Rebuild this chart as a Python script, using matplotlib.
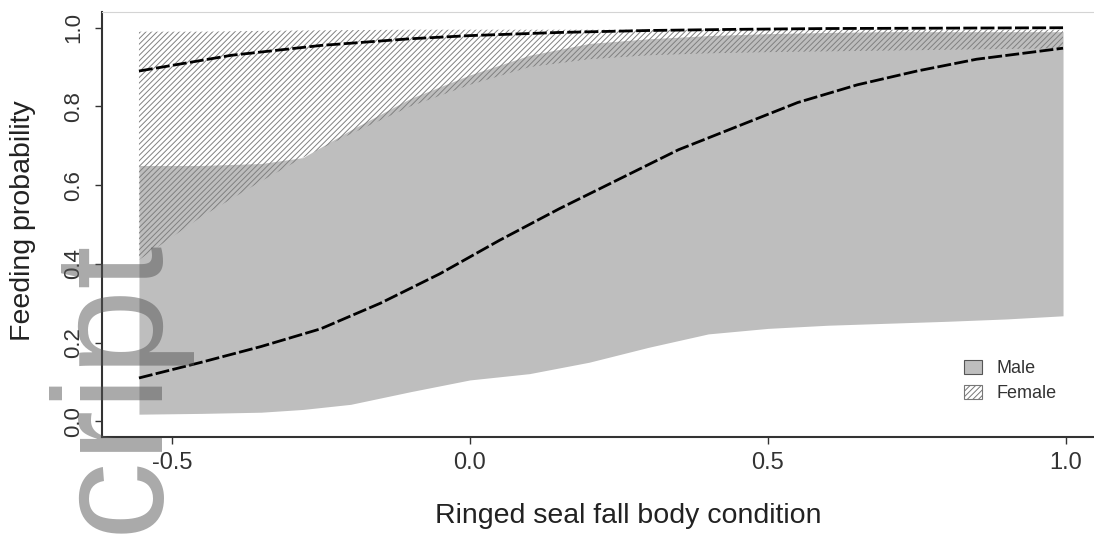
import matplotlib
matplotlib.use("Agg")
import matplotlib.pyplot as plt
from matplotlib.patches import Patch

plt.rcParams['font.family'] = ['Liberation Sans', 'DejaVu Sans']
plt.rcParams['hatch.linewidth'] = 0.7

# confidence band grid (body condition)
x_ci = [-0.555, -0.45, -0.35, -0.28, -0.2, -0.1, 0.0, 0.1, 0.2, 0.3,
        0.4, 0.5, 0.6, 0.7, 0.8, 0.9, 0.995]
male_lo = [0.018, 0.02, 0.023, 0.03, 0.043, 0.075, 0.105, 0.121, 0.15, 0.188,
           0.222, 0.236, 0.244, 0.249, 0.254, 0.26, 0.268]
male_hi = [0.65, 0.65, 0.655, 0.67, 0.74, 0.82, 0.88, 0.93, 0.96, 0.972,
           0.98, 0.985, 0.988, 0.99, 0.99, 0.99, 0.99]
fem_lo = [0.41, 0.52, 0.61, 0.67, 0.73, 0.80, 0.855, 0.90, 0.92, 0.93,
          0.935, 0.938, 0.94, 0.942, 0.944, 0.946, 0.948]
fem_hi = [0.99, 0.99, 0.992, 0.993, 0.994, 0.995, 0.995, 0.995, 0.995, 0.995,
          0.995, 0.995, 0.995, 0.995, 0.995, 0.995, 0.995]

# fitted curves
x_male = [-0.555, -0.45, -0.35, -0.25, -0.15, -0.05, 0.05, 0.15, 0.25, 0.35,
          0.45, 0.55, 0.65, 0.75, 0.85, 0.995]
y_male = [0.11, 0.15, 0.19, 0.235, 0.30, 0.375, 0.46, 0.54, 0.615, 0.69,
          0.75, 0.81, 0.855, 0.89, 0.92, 0.948]
x_fem = [-0.555, -0.4, -0.25, -0.1, 0.0, 0.15, 0.3, 0.45, 0.6, 0.8, 0.995]
y_fem = [0.89, 0.93, 0.955, 0.972, 0.98, 0.988, 0.993, 0.996, 0.998, 0.999, 1.0]

x_ticks = [-0.5, 0.0, 0.5, 1.0]
y_ticks = [0.0, 0.2, 0.4, 0.6, 0.8, 1.0]

W, H = 1094, 535
fig = plt.figure(figsize=(W / 100, H / 100), dpi=100)
ax = fig.add_axes([102 / W, 98 / H, 998 / W, 425 / H])

ax.fill_between(x_ci, male_lo, male_hi, color='#bebebe', lw=0, zorder=1)
ax.fill_between(x_ci, fem_lo, fem_hi, facecolor='none', edgecolor='#808080',
                hatch='//////', lw=0, zorder=2)

l1, = ax.plot(x_male, y_male, color='black', lw=2, zorder=3)
l1.set_dashes([5, 1.2])
l2, = ax.plot(x_fem, y_fem, color='black', lw=2, zorder=3)
l2.set_dashes([5, 1.2])

ax.set_xlim(-0.617, 1.057)
ax.set_ylim(-0.04, 1.04)

ax.spines['left'].set_linewidth(1.5)
ax.spines['bottom'].set_linewidth(1.5)
ax.spines['left'].set_color('#333333')
ax.spines['bottom'].set_color('#333333')
ax.spines['top'].set_color('#d4d4d4')
ax.spines['right'].set_visible(False)

ax.set_xticks(x_ticks)
ax.set_xticklabels(['-0.5', '0.0', '0.5', '1.0'])
ax.set_yticks(y_ticks)
ax.set_yticklabels(['0.0', '0.2', '0.4', '0.6', '0.8', '1.0'], rotation=90, va='center')
ax.tick_params(axis='both', direction='out', length=5, width=1, color='#333333',
               labelcolor='#333333')
ax.tick_params(axis='x', pad=6, labelsize=17)
ax.tick_params(axis='y', pad=8, labelsize=16)

ax.set_xlabel('Ringed seal fall body condition', fontsize=20.5, color='#222222')
ax.xaxis.set_label_coords(0.527, -0.155)
ax.set_ylabel('Feeding probability', fontsize=20.5, color='#222222')
ax.yaxis.set_label_coords(-0.066, 0.51)

handles = [Patch(facecolor='#bebebe', edgecolor='#555555', lw=0.8, label='Male'),
           Patch(facecolor='white', edgecolor='#777777', hatch='//////', lw=0.8, label='Female')]
fig.legend(handles=handles, loc='upper left', bbox_to_anchor=(948 / W, (H - 344) / H),
           frameon=False, fontsize=13, handlelength=1.0, handleheight=0.75,
           handletextpad=0.8, labelspacing=0.45, labelcolor='#333333')

# watermark from the source page
fig.text(150 / W, (H - 232) / H, 'Manuscript', rotation=90, rotation_mode='anchor',
         ha='right', va='baseline', fontsize=112, color='#545454', alpha=0.5, zorder=10)

fig.savefig('out.png', dpi=100)
